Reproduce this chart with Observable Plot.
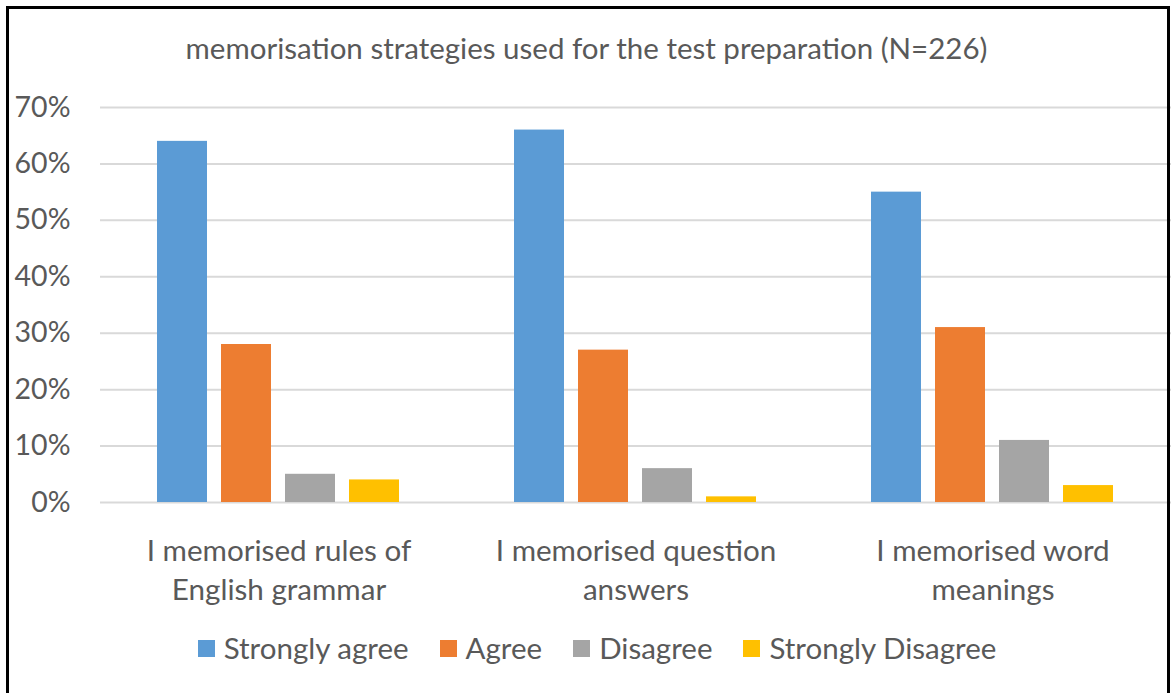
<!DOCTYPE html>
<html>
<head>
<meta charset="utf-8">
<script src="https://cdn.jsdelivr.net/npm/d3@7"></script>
<script src="https://cdn.jsdelivr.net/npm/@observablehq/plot@0.6"></script>
<style>
  body { margin: 0; background: #fff; }
  #wrap { position: relative; width: 1173px; height: 693px; overflow: hidden; font-family: Lato, sans-serif; color: #595959; background: #fff; }
  #frame { position: absolute; left: 6px; top: 6px; width: 1164px; height: 760px; border: 3px solid #000; box-sizing: border-box; pointer-events: none; z-index: 5; }
  #title { position: absolute; left: 0; top: 30px; width: 1173px; text-align: center; font-size: 29.5px; line-height: 36px; white-space: nowrap; }
  #chart { position: absolute; left: 0; top: 80px; }
  #legend { position: absolute; left: 0; top: 628px; width: 1173px; box-sizing: border-box; padding-left: 21px; display: flex; justify-content: center; gap: 31px; font-size: 29.5px; line-height: 40px; white-space: nowrap; }
  .item { display: flex; align-items: center; }
  .sw { width: 17px; height: 17px; margin-right: 9px; display: inline-block; }
</style>
</head>
<body>
<div id="wrap">
  <div id="title"></div>
  <div id="chart"></div>
  <div id="legend"></div>
  <div id="frame"></div>
</div>
<script>
const title = "memorisation strategies used for the test preparation (N=226)";
const categories = ["I memorised rules of English grammar", "I memorised question answers", "I memorised word meanings"];
const tickLabels = ["I memorised rules of\nEnglish grammar", "I memorised question\nanswers", "I memorised word\nmeanings"];
const series = ["Strongly agree", "Agree", "Disagree", "Strongly Disagree"];
const stronglyAgree = [64, 66, 55];
const agree = [28, 27, 31];
const disagree = [5, 6, 11];
const stronglyDisagree = [4, 1, 3];
const yTicks = [0, 10, 20, 30, 40, 50, 60, 70];
const colors = ["#5B9BD5", "#ED7D31", "#A5A5A5", "#FFC000"];

const valuesBySeries = [stronglyAgree, agree, disagree, stronglyDisagree];
const data = categories.flatMap((c, i) =>
  series.map((s, j) => ({category: c, series: s, value: valuesBySeries[j][i]}))
);

document.getElementById("title").textContent = title;

const chart = Plot.plot({
  width: 1173,
  height: 540,
  marginTop: 27,
  marginBottom: 118,
  marginLeft: 99,
  marginRight: 2,
  style: {fontFamily: "Lato, sans-serif", color: "#595959", background: "transparent", overflow: "visible"},
  fx: {domain: categories, paddingInner: 0, paddingOuter: 0, label: null},
  x: {domain: series, paddingInner: 0.215, paddingOuter: 0.856, axis: null},
  y: {domain: [0, 70], label: null},
  color: {domain: series, range: colors},
  marks: [
    Plot.gridY(yTicks, {stroke: "#d9d9d9", strokeOpacity: 1, strokeWidth: 2}),
    Plot.barY(data, {fx: "category", x: "series", y: "value", fill: "series"}),
    Plot.axisY(yTicks, {tickSize: 0, tickPadding: 30, fontSize: 28.5, tickFormat: d => d + "%", label: null, fill: "#595959"}),
    Plot.axisFx({anchor: "bottom", tickSize: 0, tickPadding: 31, fontSize: 29.6, lineHeight: 1.32, label: null, fill: "#595959",
      tickFormat: d => tickLabels[categories.indexOf(d)]})
  ]
});
document.getElementById("chart").appendChild(chart);

const legend = document.getElementById("legend");
series.forEach((s, i) => {
  const item = document.createElement("div");
  item.className = "item";
  const sw = document.createElement("span");
  sw.className = "sw";
  sw.style.background = colors[i];
  const label = document.createElement("span");
  label.textContent = s;
  item.appendChild(sw);
  item.appendChild(label);
  legend.appendChild(item);
});
</script>
</body>
</html>
